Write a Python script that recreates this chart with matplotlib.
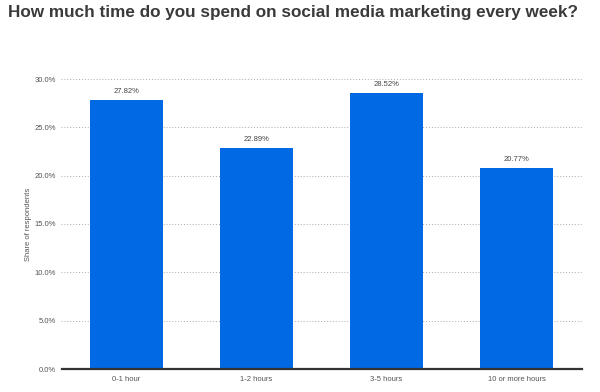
import matplotlib
matplotlib.use("Agg")
import matplotlib.pyplot as plt

categories = ["0-1 hour", "1-2 hours", "3-5 hours", "10 or more hours"]
values = [27.82, 22.89, 28.52, 20.77]
yticks = [0, 5, 10, 15, 20, 25, 30]

plt.rcParams['font.family'] = ['Liberation Sans', 'DejaVu Sans']

fig = plt.figure(figsize=(6, 3.92), dpi=100)
ax = fig.add_axes([61.5/600, 1-369/392, 520/600, 290/392])

x = list(range(len(categories)))
ax.bar(x, values, width=0.56, color="#0069e3", zorder=3)
for xi, v in zip(x, values):
    ax.text(xi, v + 0.5, f"{v:.2f}%", ha="center", va="bottom", fontsize=5.5, color="#444444")

ax.set_xlim(-0.5, len(categories) - 0.5)
ax.set_ylim(0, 30)
ax.set_yticks(yticks)
ax.set_yticklabels([f"{t:.1f}%" for t in yticks], fontsize=5.5, color="#555555")
ax.set_xticks(x)
ax.set_xticklabels(categories, fontsize=5.5, color="#555555")
ax.tick_params(axis="y", length=0, pad=4)
ax.tick_params(axis="x", length=0, pad=5)
ax.yaxis.grid(True, linestyle=(0, (1, 2)), color="#aaaaaa", linewidth=0.7, zorder=0)
for s in ["top", "right", "left"]:
    ax.spines[s].set_visible(False)
ax.spines["bottom"].set_color("#333333")
ax.spines["bottom"].set_linewidth(1.6)
ax.spines["bottom"].set_zorder(4)
ax.set_ylabel("Share of respondents", fontsize=5.5, color="#555555", labelpad=2)

fig.text(8/600, 1-12/392, "How much time do you spend on social media marketing every week?",
         fontsize=12.3, fontweight="bold", color="#3a3a3a", ha="left", va="center")

fig.savefig("out.png", dpi=100)
